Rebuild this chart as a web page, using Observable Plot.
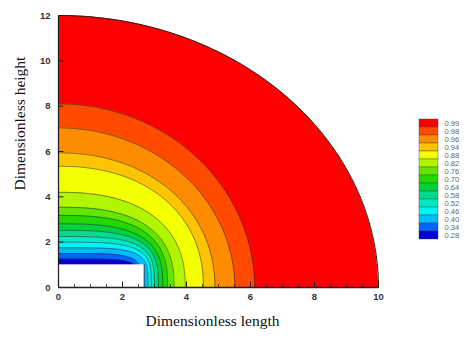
<!DOCTYPE html>
<html><head><meta charset="utf-8">
<script src="https://cdn.jsdelivr.net/npm/d3@7"></script>
<script src="https://cdn.jsdelivr.net/npm/@observablehq/plot@0.6"></script>
<style>
body{margin:0;background:#fff;}
#wrap{position:relative;width:474px;height:343px;overflow:hidden;}
#legend{position:absolute;left:410px;top:105px;}
#main{position:absolute;left:0;top:0;}
</style></head><body><div id="wrap"><div id="main"></div><div id="legend"></div></div>
<script>
// Band levels (legend, top to bottom) and their colours
const levels = ["0.99","0.98","0.96","0.94","0.88","0.82","0.76","0.70","0.64","0.58","0.52","0.46","0.40","0.34","0.28"];
const colors = ["#ff0000","#ff4a00","#ff8c00","#ffc400","#f4ff00","#b2f500","#62e600","#22d800","#00d23c","#00dd8a","#00eac4","#00f4f4","#00bcff","#0066ff","#0000d4"];
// Outer boundary of each band: intercept on the x axis and on the y axis
const xIntercepts = [10, 6.13, 5.51, 4.89, 4.53, 3.96, 3.61, 3.41, 3.26, 3.12, 3.0, 2.9, 2.8, 2.6, 2.5];
const yIntercepts = [12, 8.1, 7.04, 5.94, 5.35, 4.2, 3.54, 3.18, 2.81, 2.52, 2.25, 2.0, 1.75, 1.5, 1.25];
// squareness of each boundary (2 = elliptic arc)
const shapeExp = [2, 2, 2, 2.1, 2.2, 2.4, 2.6, 2.8, 3, 3.3, 3.6, 4, 4.5, 5, 6];
// white obstacle in the lower-left corner
const obstacle = [{x1: 0, x2: 2.68, y1: 0, y2: 1.0}];
const xTicks = [0, 2, 4, 6, 8, 10];
const yTicks = [0, 2, 4, 6, 8, 10, 12];
const xMinor = d3.range(0, 10.01, 0.5);

function boundary(i) {
  const a = xIntercepts[i], b = yIntercepts[i], p = shapeExp[i];
  return d3.range(0, 161).map(k => {
    const t = (Math.PI / 2) * (1 - k / 160);
    return {x: a * Math.pow(Math.max(0, Math.cos(t)), 2 / p), y: b * Math.pow(Math.max(0, Math.sin(t)), 2 / p)};
  });
}

const bands = levels.map((lv, i) => Plot.areaY(boundary(i), {x: "x", y1: 0, y2: "y", fill: colors[i]}));
const lines = levels.map((lv, i) => Plot.line(boundary(i), {x: "x", y: "y", stroke: i === 0 ? "#222" : "#333", strokeWidth: i === 0 ? 1 : 0.6}));

const chart = Plot.plot({
  width: 474, height: 343,
  marginLeft: 58, marginRight: 96, marginTop: 15, marginBottom: 56,
  x: {domain: [0, 10]},
  y: {domain: [0, 12]},
  style: {fontFamily: "'Liberation Sans', Arial, sans-serif", background: "#fff"},
  marks: [
    ...bands,
    ...lines,
    Plot.rect(obstacle, {x1: "x1", x2: "x2", y1: "y1", y2: "y2", fill: "#fff"}),
    Plot.ruleX([obstacle[0].x2], {y1: 0, y2: obstacle[0].y2, stroke: "#333", strokeWidth: 0.8}),
    Plot.ruleX(xMinor, {x: d => d, y1: 0, y2: 0.13, stroke: "#222", strokeWidth: 0.8}),
    Plot.ruleX(xTicks, {x: d => d, y1: 0, y2: 0.24, stroke: "#222", strokeWidth: 1}),
    Plot.ruleY(yTicks, {y: d => d, x1: 0, x2: 0.17, stroke: "#222", strokeWidth: 1}),
    Plot.ruleX([0], {y1: 0, y2: 12, stroke: "#222", strokeWidth: 1.3}),
    Plot.ruleY([0], {x1: 0, x2: 10, stroke: "#222", strokeWidth: 1.3}),
    Plot.axisX({ticks: xTicks, tickSize: 0, tickPadding: 6, label: null, fontWeight: "bold", fontSize: 9.5, fill: "#333"}),
    Plot.axisY({ticks: yTicks, tickSize: 0, tickPadding: 8, label: null, fontWeight: "bold", fontSize: 9.5, fill: "#333"}),
    Plot.text(["Dimensionless length"], {frameAnchor: "bottom", dx: -6, dy: 38, text: d => d, fontFamily: "'Liberation Serif', 'Times New Roman', serif", fontSize: 15.5, fill: "#111"}),
    Plot.text(["Dimensionless height"], {frameAnchor: "left", rotate: -90, dx: -38, dy: 39, text: d => d, fontFamily: "'Liberation Serif', 'Times New Roman', serif", fontSize: 15.5, fill: "#111"})
  ]
});
document.getElementById("main").appendChild(chart);

const legend = Plot.plot({
  width: 64, height: 148,
  marginLeft: 9, marginRight: 36, marginTop: 8, marginBottom: 8,
  x: {domain: [0, 1], axis: null},
  y: {domain: levels, axis: null, padding: 0},
  style: {fontFamily: "'Liberation Sans', Arial, sans-serif", background: "transparent", overflow: "visible"},
  marks: [
    Plot.barX(levels, {y: d => d, x1: 0, x2: 1, fill: (d, i) => colors[i], stroke: "#444", strokeWidth: 0.4}),
    Plot.text(levels, {y: d => d, x: 1, dx: 6, text: d => d, textAnchor: "start", fontSize: 7.6, fill: "#666"})
  ]
});
document.getElementById("legend").appendChild(legend);
</script>
</body></html>
